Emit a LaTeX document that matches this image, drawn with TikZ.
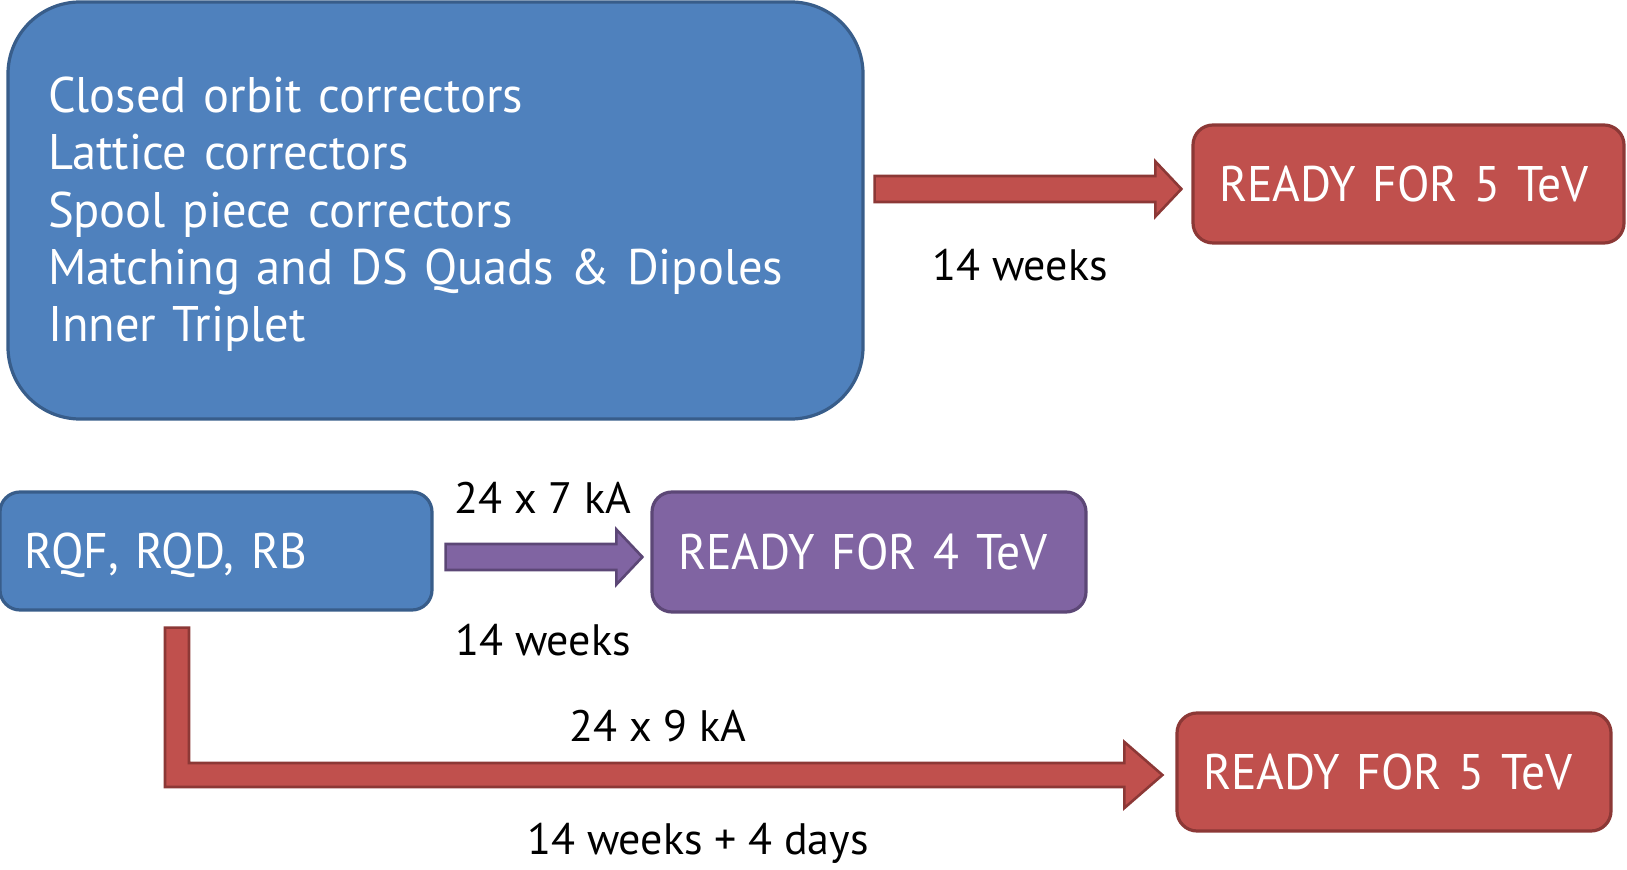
\documentclass[tikz,border=0pt]{standalone}
\usepackage{fontspec}
\setmainfont{PT Sans}
\newfontfamily\cardfont{PT Sans}[FakeStretch=0.95]
\newfontfamily\listfont{PT Sans}[FakeStretch=0.97]
\usetikzlibrary{positioning,calc}

\definecolor{boxblue}{HTML}{4F81BD}
\definecolor{lineblue}{HTML}{385D8A}
\definecolor{boxred}{HTML}{C0504D}
\definecolor{linered}{HTML}{8C3836}
\definecolor{boxpurple}{HTML}{8064A2}
\definecolor{linepurple}{HTML}{5C4776}

\tikzset{
 card/.style={line width=1.6pt,rounded corners=10pt,text=white,align=left,
   font=\cardfont\fontsize{25}{28.7}\selectfont,inner xsep=13pt,
   minimum height=59pt,text depth=0pt},
 bluecard/.style={card,fill=boxblue,draw=lineblue},
 redcard/.style={card,fill=boxred,draw=linered},
 purplecard/.style={card,fill=boxpurple,draw=linepurple},
 redarrow/.style={fill=boxred,draw=linered,line width=1.3pt},
 purplearrow/.style={fill=boxpurple,draw=linepurple,line width=1.3pt},
 lbl/.style={font=\fontsize{22}{26}\selectfont,inner sep=0pt}
}

% straight block arrow: style, tail, tip
\newcommand\fatarrow[3]{%
 \draw[#1] ($(#2)+(0,-13)$) -- ($(#3)+(-26,-13)$) -- ($(#3)+(-26,-27.5)$) -- (#3)
   -- ($(#3)+(-26,27.5)$) -- ($(#3)+(-26,13)$) -- ($(#2)+(0,13)$) -- cycle;}

\begin{document}
\begin{tikzpicture}[x=0.5pt,y=-0.5pt]
 \useasboundingbox (0,0) rectangle (1627,870);

 \node[bluecard,rounded corners=36pt,inner xsep=20pt,text width=387.5pt,minimum height=208.5pt,
   font=\listfont\fontsize{25}{28.7}\selectfont,text depth=116pt]
   (big) at (435.5,210.5) {Closed orbit correctors\\Lattice correctors\\Spool piece correctors\\
   Matching and DS Quads \& Dipoles\\Inner Triplet};
 \node[redcard,text width=189.5pt] (rdy5a) at (1408.5,184) {READY FOR 5 TeV};
 \node[bluecard,inner xsep=12.5pt,text width=191pt] (rqf) at (216,551) {RQF, RQD, RB};
 \node[purplecard,text width=191pt,minimum height=60pt] (rdy4) at (869,552) {READY FOR 4 TeV};
 \node[redcard,text width=191pt] (rdy5b) at (1394,772) {READY FOR 5 TeV};

 % arrows
 \coordinate (a1s) at ($(big.east |- 0,189)+(10,0)$);
 \coordinate (a1e) at ($(rdy5a.west |- a1s)+(-10,0)$);
 \fatarrow{redarrow}{a1s}{a1e}
 \coordinate (a2s) at ($(rqf.east |- 0,557)+(12,0)$);
 \coordinate (a2e) at ($(rdy4.west |- a2s)+(-8,0)$);
 \fatarrow{purplearrow}{a2s}{a2e}

 \coordinate (bend) at (177,775);
 \coordinate (a3s) at ($(rqf.south -| bend)+(0,16)$);
 \coordinate (a3e) at ($(rdy5b.west |- bend)+(-13,0)$);
 \draw[redarrow] ($(a3s)+(-12,0)$) -- ($(a3s)+(12,0)$) -- ($(bend)+(12,-12)$)
   -- ($(a3e)+(-38,-12)$) -- ($(a3e)+(-38,-33)$) -- (a3e) -- ($(a3e)+(-38,33)$)
   -- ($(a3e)+(-38,12)$) -- ($(bend)+(-12,12)$) -- cycle;

 % labels
 \node[lbl] (t1) at (1020,265) {14 weeks};
 \node[lbl] (k7) at (543,498) {24 x 7 kA};
 \node[lbl] (t2) at (543,640) {14 weeks};
 \node[lbl] (k9) at (658,726) {24 x 9 kA};
 \node[lbl] (t3) at (698,843) {14 weeks + 4 days};
\end{tikzpicture}
\end{document}
